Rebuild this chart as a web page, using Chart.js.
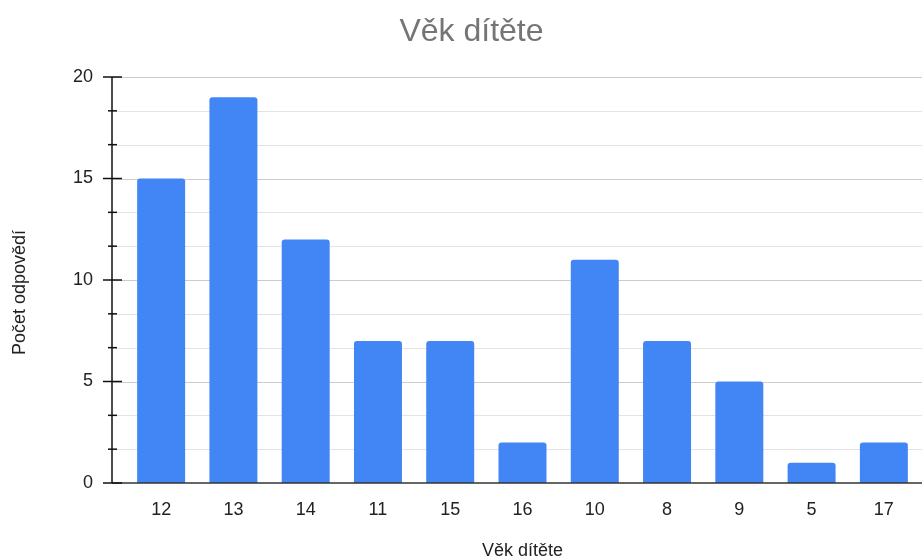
<!DOCTYPE html>
<html>
<head>
<meta charset="utf-8">
<script src="https://cdn.jsdelivr.net/npm/chart.js@4"></script>
<style>
  html, body { margin: 0; padding: 0; background: #fff; }
  #wrap { width: 922px; height: 560px; }
</style>
</head>
<body>
<div id="wrap"><canvas id="myChart"></canvas></div>
<script>
// data
const categories = ['12', '13', '14', '11', '15', '16', '10', '8', '9', '5', '17'];
const counts = [15, 19, 12, 7, 7, 2, 11, 7, 5, 1, 2];
const yTicks = [0, 5, 10, 15, 20];
const yMinorTicks = [5 / 3, 10 / 3, 20 / 3, 25 / 3, 35 / 3, 40 / 3, 50 / 3, 55 / 3];

const font = "'Liberation Sans', Arial, sans-serif";

// grid, axis line and tick marks like the spreadsheet look
const axisPlugin = {
    id: 'axisPlugin',
    beforeDatasetsDraw(chart) {
        const ctx = chart.ctx, y = chart.scales.y;
        const x0 = 112, x1 = chart.width;
        ctx.save();
        ctx.lineWidth = 1;
        ctx.strokeStyle = '#e3e3e3';
        yMinorTicks.forEach(v => {
            const py = Math.round(y.getPixelForValue(v)) + 0.5;
            ctx.beginPath(); ctx.moveTo(x0, py); ctx.lineTo(x1, py); ctx.stroke();
        });
        ctx.strokeStyle = '#cccccc';
        yTicks.forEach(v => {
            if (v === 0) return;
            const py = Math.round(y.getPixelForValue(v)) + 0.5;
            ctx.beginPath(); ctx.moveTo(x0, py); ctx.lineTo(x1, py); ctx.stroke();
        });
        ctx.restore();
    },
    afterDatasetsDraw(chart) {
        const ctx = chart.ctx, y = chart.scales.y;
        const x0 = 112;
        ctx.save();
        ctx.strokeStyle = '#333';
        ctx.lineWidth = 1.5;
        const pz = y.getPixelForValue(0);
        ctx.beginPath(); ctx.moveTo(x0, pz); ctx.lineTo(chart.width, pz); ctx.stroke();
        ctx.strokeStyle = '#111';
        ctx.beginPath(); ctx.moveTo(x0, y.getPixelForValue(20)); ctx.lineTo(x0, pz); ctx.stroke();
        yTicks.forEach(v => {
            const py = y.getPixelForValue(v);
            ctx.beginPath(); ctx.moveTo(103, py); ctx.lineTo(122, py); ctx.stroke();
        });
        yMinorTicks.forEach(v => {
            const py = y.getPixelForValue(v);
            ctx.beginPath(); ctx.moveTo(108, py); ctx.lineTo(117, py); ctx.stroke();
        });
        ctx.restore();
    }
};

new Chart(document.getElementById('myChart'), {
    type: 'bar',
    data: {
        labels: categories,
        datasets: [{
            label: 'Věk dítěte',
            data: counts,
            backgroundColor: '#4285f4',
            borderRadius: 3,
            barPercentage: 0.664,
            categoryPercentage: 1
        }]
    },
    options: {
        responsive: true,
        maintainAspectRatio: false,
        animation: false,
        layout: { padding: { left: 23, right: 2, top: 0, bottom: 0 } },
        plugins: {
            legend: { display: false },
            tooltip: { enabled: false },
            title: {
                display: true,
                text: 'Věk dítěte',
                color: '#757575',
                font: { family: font, size: 32, weight: 'normal' },
                padding: { top: 13, bottom: 25.6 }
            }
        },
        scales: {
            x: {
                grid: { display: false },
                border: { display: false },
                ticks: { color: '#222', font: { family: font, size: 18 }, padding: 8 },
                title: {
                    display: true,
                    text: 'Věk dítěte',
                    color: '#222',
                    font: { family: font, size: 18 },
                    padding: { top: 0, bottom: -2 }
                },
                afterFit(s) { s.height = 77; }
            },
            y: {
                min: 0,
                max: 20,
                grid: { display: false, drawTicks: false },
                border: { display: false },
                ticks: {
                    stepSize: 5,
                    color: '#222',
                    font: { family: font, size: 18 },
                    padding: 32
                },
                title: {
                    display: true,
                    text: 'Počet odpovědí\u00A0\u00A0\u00A0\u00A0\u00A0',
                    color: '#222',
                    font: { family: font, size: 18 },
                    padding: { top: -14, bottom: 0 }
                },
                afterFit(s) { s.width = 102; }
            }
        }
    },
    plugins: [axisPlugin]
});
</script>
</body>
</html>
